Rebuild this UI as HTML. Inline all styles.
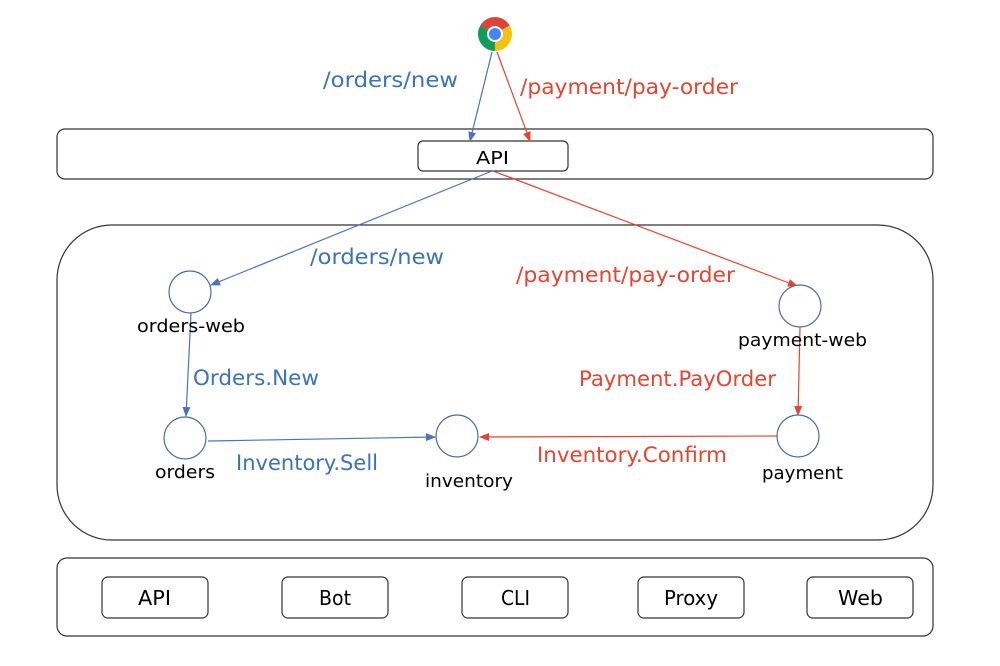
<!DOCTYPE html>
<html><head><meta charset="utf-8"><style>
body{margin:0;background:#fff}
svg{display:block}
text{font-family:"DejaVu Sans","Liberation Sans",sans-serif}
</style></head><body>
<svg width="1000" height="666" viewBox="0 0 1000 666" xmlns="http://www.w3.org/2000/svg">
<defs>
<marker id="ab" markerWidth="10" markerHeight="10" refX="9" refY="5" orient="auto" markerUnits="userSpaceOnUse"><path d="M0,1 L10,5 L0,9 z" fill="#4a72c4"/></marker>
<marker id="ar" markerWidth="10" markerHeight="10" refX="9" refY="5" orient="auto" markerUnits="userSpaceOnUse"><path d="M0,1 L10,5 L0,9 z" fill="#e8432e"/></marker>
</defs>
<g transform="translate(495,34)">
<path d="M0,0 L-14.7,-8.5 A17,17 0 0 1 14.7,-8.5 Z" fill="#db4437"/>
<path d="M0,0 L14.7,-8.5 A17,17 0 0 1 0,17 Z" fill="#f4c20d"/>
<path d="M0,0 L0,17 A17,17 0 0 1 -14.7,-8.5 Z" fill="#0f9d58"/>
<circle r="8" fill="#fff"/><circle r="6" fill="#4285f4"/>
</g>
<rect x="57" y="129" width="876" height="50" rx="8" fill="none" stroke="#333" stroke-width="1.2"/>
<rect x="418" y="141" width="150" height="30" rx="5" fill="#fff" stroke="#333" stroke-width="1.2"/>
<text x="476" y="164" font-size="18" textLength="33" lengthAdjust="spacingAndGlyphs">API</text>
<rect x="57" y="225" width="876" height="315" rx="55" fill="none" stroke="#333" stroke-width="1.2"/>
<rect x="57" y="558" width="876" height="78" rx="10" fill="none" stroke="#333" stroke-width="1.2"/>
<g fill="#fff" stroke="#333" stroke-width="1.2">
<rect x="102" y="577" width="106" height="41" rx="6"/>
<rect x="282" y="577" width="106" height="41" rx="6"/>
<rect x="462" y="577" width="106" height="41" rx="6"/>
<rect x="638" y="577" width="106" height="41" rx="6"/>
<rect x="807" y="577" width="106" height="41" rx="6"/>
</g>
<g font-size="20">
<text x="138" y="605" textLength="33" lengthAdjust="spacingAndGlyphs">API</text>
<text x="319" y="605" textLength="32" lengthAdjust="spacingAndGlyphs">Bot</text>
<text x="501" y="605" textLength="29" lengthAdjust="spacingAndGlyphs">CLI</text>
<text x="664" y="605" textLength="54" lengthAdjust="spacingAndGlyphs">Proxy</text>
<text x="838" y="605" textLength="45" lengthAdjust="spacingAndGlyphs">Web</text>
</g>
<g stroke-width="1.2" fill="none">
<line x1="492" y1="52" x2="470" y2="141" stroke="#4a72c4" marker-end="url(#ab)"/>
<line x1="497" y1="52" x2="530" y2="141" stroke="#e8432e" marker-end="url(#ar)"/>
<line x1="492" y1="171" x2="211" y2="285" stroke="#4a72c4" marker-end="url(#ab)"/>
<line x1="493" y1="171" x2="797" y2="286" stroke="#e8432e" marker-end="url(#ar)"/>
<line x1="191" y1="313" x2="186" y2="416" stroke="#4a72c4" marker-end="url(#ab)"/>
<line x1="208" y1="441" x2="435" y2="437" stroke="#4a72c4" marker-end="url(#ab)"/>
<line x1="800" y1="327" x2="798" y2="415" stroke="#e8432e" marker-end="url(#ar)"/>
<line x1="777" y1="436" x2="480" y2="437" stroke="#e8432e" marker-end="url(#ar)"/>
</g>
<g fill="#fff" stroke="#4a6aaa" stroke-width="1.2">
<circle cx="190" cy="292" r="21"/>
<circle cx="185" cy="438" r="21"/>
<circle cx="457" cy="436" r="21"/>
<circle cx="800" cy="306" r="21"/>
<circle cx="798" cy="436" r="21"/>
</g>
<g font-size="18">
<text x="137" y="332" textLength="108" lengthAdjust="spacingAndGlyphs">orders-web</text>
<text x="155" y="478" textLength="60" lengthAdjust="spacingAndGlyphs">orders</text>
<text x="425" y="487" textLength="88" lengthAdjust="spacingAndGlyphs">inventory</text>
<text x="738" y="346" textLength="129" lengthAdjust="spacingAndGlyphs">payment-web</text>
<text x="762" y="479" textLength="81" lengthAdjust="spacingAndGlyphs">payment</text>
</g>
<g font-size="21" fill="#3a72c0">
<text x="323" y="87" textLength="135" lengthAdjust="spacingAndGlyphs">/orders/new</text>
<text x="310" y="264" textLength="134" lengthAdjust="spacingAndGlyphs">/orders/new</text>
<text x="193" y="385" textLength="126" lengthAdjust="spacingAndGlyphs">Orders.New</text>
<text x="236" y="470" textLength="142" lengthAdjust="spacingAndGlyphs">Inventory.Sell</text>
</g>
<g font-size="21" fill="#e8432e">
<text x="520" y="94" textLength="218" lengthAdjust="spacingAndGlyphs">/payment/pay-order</text>
<text x="516" y="282" textLength="219" lengthAdjust="spacingAndGlyphs">/payment/pay-order</text>
<text x="579" y="386" textLength="197" lengthAdjust="spacingAndGlyphs">Payment.PayOrder</text>
<text x="537" y="462" textLength="190" lengthAdjust="spacingAndGlyphs">Inventory.Confirm</text>
</g>
</svg>
</body></html>
